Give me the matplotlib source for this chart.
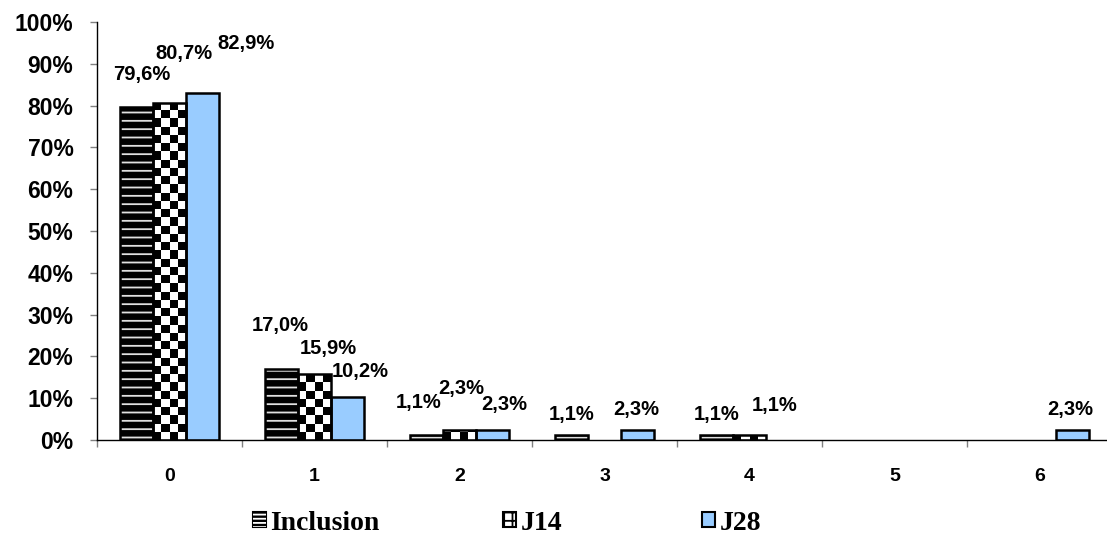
import numpy as np
import matplotlib
matplotlib.use("Agg")
import matplotlib.pyplot as plt
from matplotlib.patches import Patch

# ---- data ----
categories = ["0", "1", "2", "3", "4", "5", "6"]
series_names = ["Inclusion", "J14", "J28"]
inclusion = [79.6, 17.0, 1.1, 1.1, 1.1, 0.0, 0.0]
j14 = [80.7, 15.9, 2.3, 0.0, 1.1, 0.0, 0.0]
j28 = [82.9, 10.2, 2.3, 2.3, 0.0, 0.0, 2.3]
y_ticks = [0, 10, 20, 30, 40, 50, 60, 70, 80, 90, 100]

# label offsets in pixels (dx, dy) relative to bar top centre (style/layout)
off_inc = [(5, 33), (-1, 43), (-8, 33), (0, 21), (0, 21), (0, 0), (0, 0)]
off_j14 = [(14, 49), (14, 25), (2, 42), (0, 0), (25, 30), (0, 0), (0, 0)]
off_j28 = [(44, 50), (13, 26), (12, 26), (-1, 21), (0, 0), (0, 0), (-2, 21)]

W, H, DPI = 1107, 540, 100
fig = plt.figure(figsize=(W / DPI, H / DPI), dpi=DPI)
ax = fig.add_axes([97 / W, 100 / H, 1015 / W, 418 / H])

plt.rcParams['hatch.linewidth'] = 1.3
sans = ['Liberation Sans', 'DejaVu Sans']
serif = ['Liberation Serif', 'DejaVu Serif']

x = np.arange(len(categories))
bw = 33 / 145
light_blue = '#99ccff'

# Inclusion: black with light horizontal stripes
ax.bar(x - bw, inclusion, bw, color='black', edgecolor='#e0e0e0', hatch='--', lw=0, zorder=2)
# J14: checkerboard via clipped mesh
j14_bars = ax.bar(x, j14, bw, color='white', lw=0, zorder=2)
sx = 8.25 / 145
sy = 8.25 / 418 * 100
for rect, v in zip(j14_bars, j14):
    if v <= 0:
        continue
    x0 = rect.get_x()
    nc = int(np.ceil(bw / sx))
    nr = int(np.ceil(v / sy))
    xe = x0 + np.arange(nc + 1) * sx
    ye = np.arange(nr + 1) * sy
    ii, jj = np.indices((nr, nc))
    board = ((ii + jj) % 2).astype(float)
    mesh = ax.pcolormesh(xe, ye, board, cmap='gray', vmin=0, vmax=1,
                         shading='flat', zorder=2.5, antialiased=False)
    mesh.set_clip_path(rect)
# J28
ax.bar(x + bw, j28, bw, color=light_blue, lw=0, zorder=2)

# outlines
for off, vals in zip([-bw, 0, bw], [inclusion, j14, j28]):
    for xi, v in zip(x, vals):
        if v > 0:
            ax.bar(xi + off, v, bw, fill=False, edgecolor='black', lw=1.8, zorder=3)

# labels
for off, vals, offs in zip([-bw, 0, bw], [inclusion, j14, j28], [off_inc, off_j14, off_j28]):
    for xi, v, (dx, dy) in zip(x, vals, offs):
        if v <= 0:
            continue
        ax.annotate(f"{v:.1f}%".replace('.', ','), (xi + off, v), xytext=(dx, dy),
                    textcoords='offset pixels', ha='center', va='center',
                    fontsize=14.5, fontweight='bold', family=sans, zorder=4)

ax.set_xlim(-0.5, len(categories) - 0.5)
ax.set_ylim(0, 100)
ax.set_yticks(y_ticks)
ax.set_yticklabels([f"{t}%" for t in y_ticks], fontsize=16.5, fontweight='bold', family=sans)
ax.set_xticks(x)
ax.set_xticklabels(categories, fontsize=14, fontweight='bold', family=sans)
ax.set_xticks(np.arange(len(categories) + 1) - 0.5, minor=True)
ax.tick_params(axis='x', which='major', length=0, pad=20)
ax.tick_params(axis='x', which='minor', length=5, direction='out', color='#808080', width=1)
ax.tick_params(axis='y', which='major', length=5, direction='out', color='#808080', width=1, pad=12)
for s in ['top', 'right']:
    ax.spines[s].set_visible(False)
for s in ['left', 'bottom']:
    ax.spines[s].set_color('black')
    ax.spines[s].set_linewidth(1.0)

# legend
handles = [
    (Patch(facecolor='black', edgecolor='black', lw=1.5),
     Patch(facecolor='none', edgecolor='white', hatch='----', lw=0)),
    Patch(facecolor='white', edgecolor='black', hatch='++', lw=1.5),
    Patch(facecolor=light_blue, edgecolor='black', lw=1.5),
]
leg_x = [253, 503, 702]
for h, name, lx in zip(handles, series_names, leg_x):
    fig.legend([h], [name], loc='center left', bbox_to_anchor=(lx / W, 1 - 523 / H),
               frameon=False, borderpad=0, borderaxespad=0, handlelength=0.48,
               handleheight=0.48, handletextpad=0.15,
               prop={'family': serif, 'weight': 'bold', 'size': 20})

fig.savefig('out.png', dpi=DPI)
